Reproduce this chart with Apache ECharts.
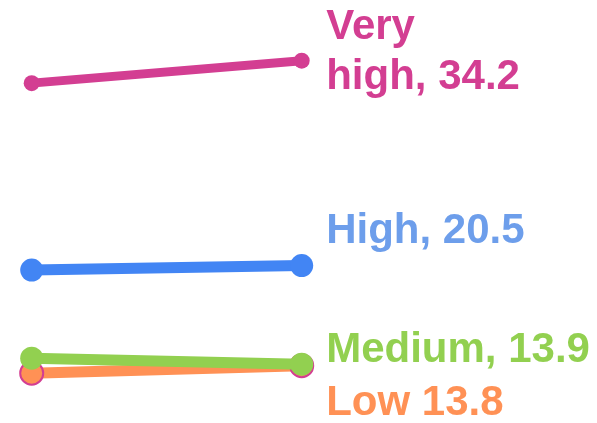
<!DOCTYPE html>
<html>
<head>
<meta charset="utf-8">
<script src="https://cdn.jsdelivr.net/npm/echarts@6/dist/echarts.min.js"></script>
<style>
  html, body { margin: 0; padding: 0; background: #ffffff; }
  #chart { width: 597px; height: 423px; }
</style>
</head>
<body>
<div id="chart"></div>
<script>
// Two time points, one line per level
const periods = ['before', 'after'];
const levels = ['Very high', 'High', 'Medium', 'Low'];
const startValues = [32.7, 20.2, 14.3, 13.3];
const endValues = [34.2, 20.5, 13.9, 13.8];
const labelPrefixes = ['Very\nhigh, ', 'High, ', 'Medium, ', 'Low '];

// styling per level
const lineColors = ['#D33E92', '#4285F4', '#92D050', '#FF9155'];
const textColors = ['#D33E92', '#6D9EEB', '#92D050', '#FF9155'];
const symbolSizes = [16, 23, 23, 23];
const lineWidths = [9, 11, 11, 11];
const labelShifts = [-8, -34.4, -13.7, 37.8];
const drawOrder = [3, 2, 1, 0]; // Low first, Very high last

const series = drawOrder.map(function (i) {
  const border = i === 3 ? { borderColor: '#D33E92', borderWidth: 2 } : {};
  return {
    name: levels[i],
    type: 'line',
    data: [
      { value: startValues[i] },
      {
        value: endValues[i],
        label: {
          show: true,
          position: 'inside',
          align: 'left',
          verticalAlign: 'middle',
          offset: [24.5, labelShifts[i]],
          formatter: labelPrefixes[i] + endValues[i].toFixed(1),
          color: textColors[i],
          fontFamily: 'Liberation Sans, Arial, sans-serif',
          fontWeight: 'bold',
          fontSize: 42,
          lineHeight: 50
        }
      }
    ],
    symbol: 'circle',
    symbolSize: symbolSizes[i],
    showSymbol: true,
    lineStyle: { color: lineColors[i], width: lineWidths[i] },
    itemStyle: Object.assign({ color: lineColors[i] }, border),
    emphasis: { disabled: true },
    z: 2 + drawOrder.indexOf(i)
  };
});

const chart = echarts.init(document.getElementById('chart'), null, { renderer: 'canvas' });
chart.setOption({
  animation: false,
  backgroundColor: '#ffffff',
  grid: { left: 31.7, top: 33.8, width: 270, height: 388.7, containLabel: false },
  xAxis: {
    type: 'category',
    data: periods,
    boundaryGap: false,
    show: false
  },
  yAxis: {
    type: 'value',
    min: 10,
    max: 36,
    show: false
  },
  series: series
});
</script>
</body>
</html>
